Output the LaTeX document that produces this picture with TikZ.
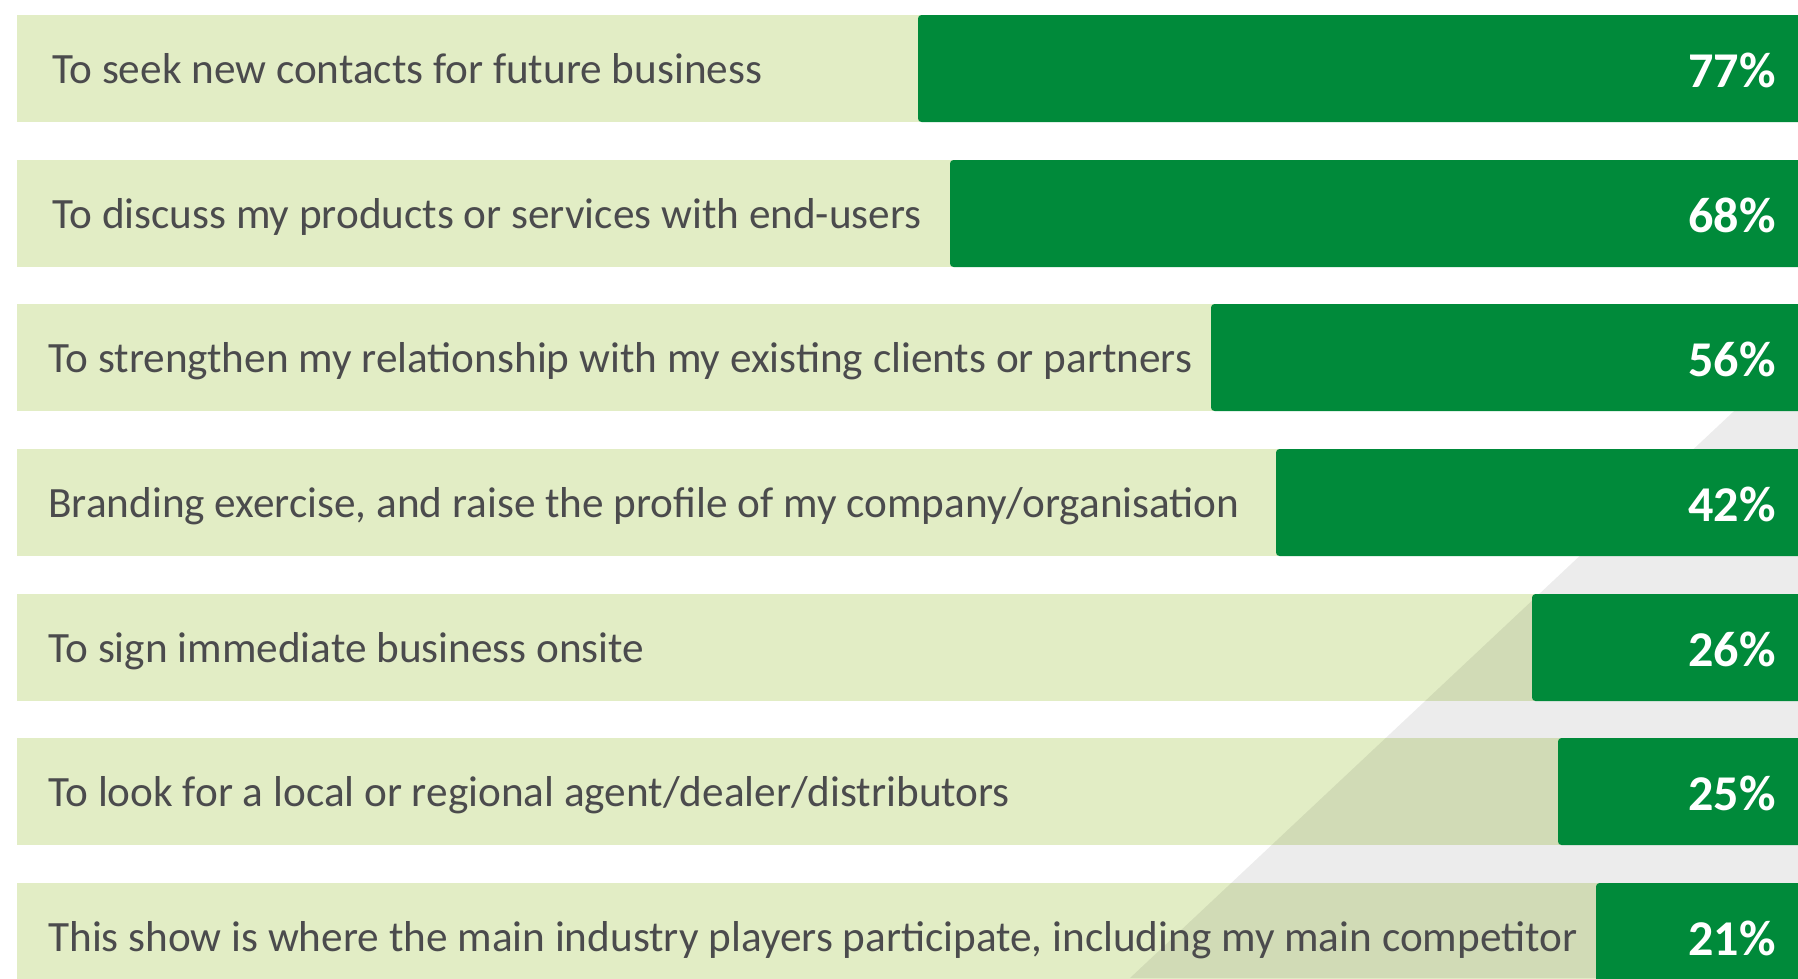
\documentclass[tikz,border=0pt]{standalone}
\usepackage{fontspec}
\setmainfont{Carlito}
\usepackage{xcolor}
\definecolor{barLight}{HTML}{E2EDC5}
\definecolor{barDark}{HTML}{008A3A}
\definecolor{labelGrey}{HTML}{4B4B4D}

\begin{document}
\begin{tikzpicture}[x=0.02cm,y=-0.02cm,
		lightbar/.style={fill=barLight},
		darkbar/.style={fill=barDark,rounded corners=2pt},
		shadow/.style={fill=black,fill opacity=0.075},
		reason/.style={anchor=base west,text=labelGrey,inner sep=0pt,font=\fontsize{24.6}{26}\selectfont},
		share/.style={anchor=base east,text=white,inner sep=0pt,font=\fontsize{28.5}{30}\selectfont\bfseries}]
		\def \W {1798};
		\def \H {978};
		\def \barH {107};
		\clip (0,0) rectangle (\W,\H);
		% light bars
		\foreach \top in {15,160,304,449,594,738,883}
		{
			\fill[lightbar] (17,\top) rectangle (\W,\top+\barH);
		}
		% grey shadow behind the dark bars
		\fill[shadow] (1130,\H) -- (\W,351) -- (\W,\H) -- cycle;
		% dark bars, reasons and shares
		\foreach \top/\start/\xt/\pct/\txt [count=\i] in {
			15/918/52/77/{To seek new contacts for future business},
			160/950/52/68/{To discuss my products or services with end-users},
			304/1211/48/56/{To strengthen my relationship with my existing clients or partners},
			449/1276/48/42/{Branding exercise, and raise the profile of my company/organisation},
			594/1532/48/26/{To sign immediate business onsite},
			738/1558/48/25/{To look for a local or regional agent/dealer/distributors},
			883/1596/48/21/{This show is where the main industry players participate, including my main competitor}}
		{
			\fill[darkbar] (\start,\top) rectangle (\W+10,\top+\barH);
			\node[reason] (reason\i) at (\xt,\top+68) {\txt};
			\node[share] (share\i) at (1776,\top+72) {\pct\%};
		}
\end{tikzpicture}
\end{document}
